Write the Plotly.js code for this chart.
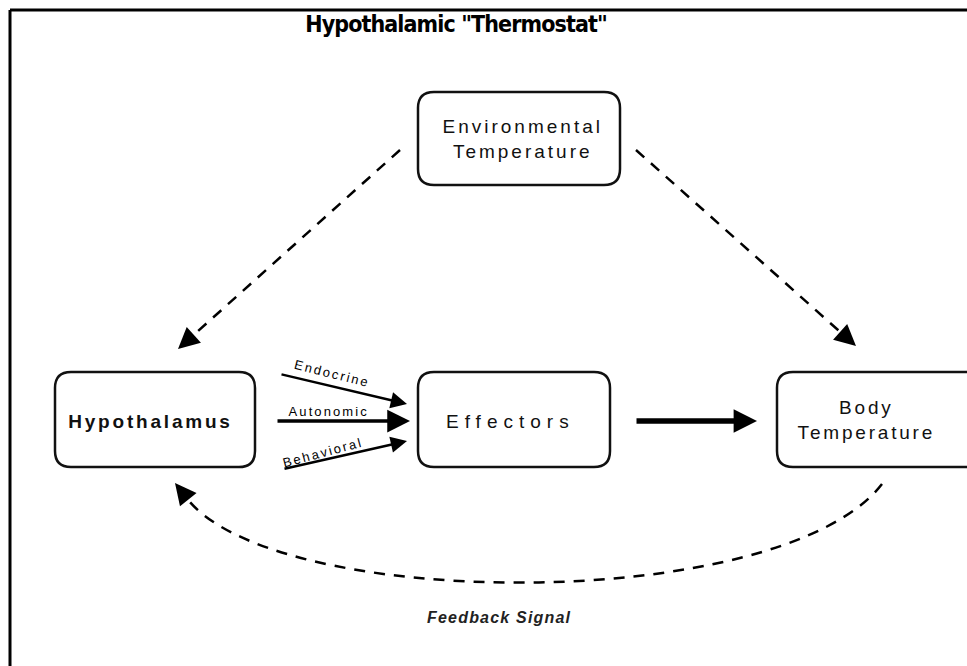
<!DOCTYPE html>
<html>
<head>
<meta charset="utf-8">
<script src="https://cdn.plot.ly/plotly-3.0.1.min.js"></script>
<style>html,body{margin:0;padding:0;background:#fff;}#chart{width:967px;height:666px;}</style>
</head>
<body>
<div id="chart"></div>
<script>
// ---- diagram content (nodes) ----
const nodeLabels = ['Environmental<br>Temperature', 'Hypothalamus', 'Effectors', 'Body<br>Temperature'];
const nodeBold   = [false, true, false, false];
const nodeLeft   = [418, 55, 418, 777];
const nodeRight  = [620, 255, 610, 990];
const nodeTop    = [92, 372, 372, 372];
const nodeBottom = [185, 467, 467, 467];
const labelX     = [522, 150, 510, 866];
const labelY     = [139, 421, 421, 420];
const labelSpacing = [3, 2.8, 6, 2.8];

// ---- solid arrows (from -> to) ----
const solidFromX = [280, 276, 283, 635];
const solidFromY = [374, 421, 469, 421];
const solidToX   = [407, 410, 407, 757];
const solidToY   = [404, 421, 441, 421];
const solidWidth = [2.5, 3.5, 2.5, 5.5];

// ---- pathway labels on the arrows ----
const pathLabels = ['Endocrine', 'Autonomic', 'Behavioral'];
const pathX      = [332, 329, 323];
const pathY      = [373, 411, 452];
const pathAngle  = [14, 0, -15];

// ---- dashed arrows ----
const dashFromX = [400, 636];
const dashFromY = [150, 150];
const dashToX   = [178, 856];
const dashToY   = [349, 346];

// ---- feedback curve (cubic bezier) ----
const fbStart = [882, 484];
const fbC1    = [780, 616];
const fbC2    = [260, 612];
const fbEnd   = [175, 483];

const titleText = 'Hypothalamic "Thermostat"';
const feedbackLabel = 'Feedback Signal';

function roundRect(x0, y0, x1, y1, r) {
  return `M ${x0 + r} ${y0} L ${x1 - r} ${y0} Q ${x1} ${y0} ${x1} ${y0 + r} ` +
         `L ${x1} ${y1 - r} Q ${x1} ${y1} ${x1 - r} ${y1} L ${x0 + r} ${y1} ` +
         `Q ${x0} ${y1} ${x0} ${y1 - r} L ${x0} ${y0 + r} Q ${x0} ${y0} ${x0 + r} ${y0} Z`;
}

const shapes = [];
const annotations = [];
const spacing = [];   // letter-spacing per annotation (styling only)

function addAnn(a, sp) { annotations.push(a); spacing.push(sp || 0); }

// frame lines (left and top)
shapes.push({type: 'line', xref: 'paper', yref: 'paper', x0: 10/967, x1: 10/967, y0: 0, y1: 1 - 10/666, line: {color: '#000', width: 3}});
shapes.push({type: 'line', xref: 'paper', yref: 'paper', x0: 10/967, x1: 1, y0: 1 - 10/666, y1: 1 - 10/666, line: {color: '#000', width: 3}});

const labelFont = 'Liberation Sans, Arial, sans-serif';

for (let i = 0; i < nodeLabels.length; i++) {
  shapes.push({type: 'path', xref: 'x', yref: 'y',
    path: roundRect(nodeLeft[i], nodeTop[i], nodeRight[i], nodeBottom[i], 16),
    line: {color: '#111', width: 2.5}, fillcolor: 'rgba(0,0,0,0)'});
  addAnn({x: labelX[i], y: labelY[i], xref: 'x', yref: 'y', showarrow: false,
    text: nodeBold[i] ? '<b>' + nodeLabels[i] + '</b>' : nodeLabels[i],
    font: {family: labelFont, size: 19, color: '#111'},
    xanchor: 'center', yanchor: 'middle'}, labelSpacing[i]);
}

for (let i = 0; i < solidFromX.length; i++) {
  addAnn({x: solidToX[i], y: solidToY[i], ax: solidFromX[i], ay: solidFromY[i],
    xref: 'x', yref: 'y', axref: 'x', ayref: 'y', text: '', showarrow: true,
    arrowhead: 2, arrowsize: i === 3 ? 0.85 : 1.3, arrowwidth: solidWidth[i], arrowcolor: '#000'});
}

for (let i = 0; i < pathLabels.length; i++) {
  addAnn({x: pathX[i], y: pathY[i], xref: 'x', yref: 'y', showarrow: false,
    text: pathLabels[i], textangle: pathAngle[i],
    font: {family: labelFont, size: 13, color: '#000'}}, 2.1);
}

for (let i = 0; i < dashFromX.length; i++) {
  const dx = dashToX[i] - dashFromX[i], dy = dashToY[i] - dashFromY[i];
  const len = Math.hypot(dx, dy);
  const ux = dx / len, uy = dy / len;
  shapes.push({type: 'line', xref: 'x', yref: 'y',
    x0: dashFromX[i], y0: dashFromY[i], x1: dashToX[i] - ux * 12, y1: dashToY[i] - uy * 12,
    line: {color: '#000', width: 2.5, dash: '11px,9px'}});
  addAnn({x: dashToX[i], y: dashToY[i], ax: dashToX[i] - ux * 16, ay: dashToY[i] - uy * 16,
    xref: 'x', yref: 'y', axref: 'x', ayref: 'y', text: '', showarrow: true,
    arrowhead: 2, arrowsize: 1.7, arrowwidth: 2.5, arrowcolor: '#000'});
}

// feedback curve
shapes.push({type: 'path', xref: 'x', yref: 'y',
  path: `M ${fbStart[0]} ${fbStart[1]} C ${fbC1[0]} ${fbC1[1]} ${fbC2[0]} ${fbC2[1]} ${fbEnd[0] + 8} ${fbEnd[1] + 10}`,
  line: {color: '#000', width: 2.5, dash: '11px,9px'}});
addAnn({x: fbEnd[0], y: fbEnd[1], ax: fbEnd[0] + 12, ay: fbEnd[1] + 15,
  xref: 'x', yref: 'y', axref: 'x', ayref: 'y', text: '', showarrow: true,
  arrowhead: 2, arrowsize: 1.7, arrowwidth: 2.5, arrowcolor: '#000'});

addAnn({x: 499, y: 617, xref: 'x', yref: 'y', showarrow: false,
  text: '<b><i>' + feedbackLabel + '</i></b>',
  font: {family: labelFont, size: 16, color: '#222'}}, 1.2);

addAnn({x: 456, y: 24, xref: 'x', yref: 'y', showarrow: false,
  text: '<b>' + titleText + '</b>',
  font: {family: 'DejaVu Sans Condensed, DejaVu Sans, sans-serif', size: 23, color: '#000'}}, -0.9);

const layout = {
  width: 967, height: 666,
  margin: {l: 0, r: 0, t: 0, b: 0},
  paper_bgcolor: '#fff', plot_bgcolor: '#fff',
  xaxis: {range: [0, 967], visible: false, fixedrange: true},
  yaxis: {range: [666, 0], visible: false, fixedrange: true},
  showlegend: false,
  shapes: shapes,
  annotations: annotations
};

Plotly.newPlot('chart', [{x: [], y: [], type: 'scatter', mode: 'markers', hoverinfo: 'skip'}], layout, {staticPlot: true})
  .then(function (gd) {
    gd.querySelectorAll('g.annotation').forEach(function (g) {
      const idx = +g.getAttribute('data-index');
      const sp = spacing[idx];
      if (sp) {
        const t = g.querySelector('text.annotation-text');
        if (t) t.style.letterSpacing = sp + 'px';
      }
    });
  });
</script>
</body>
</html>
